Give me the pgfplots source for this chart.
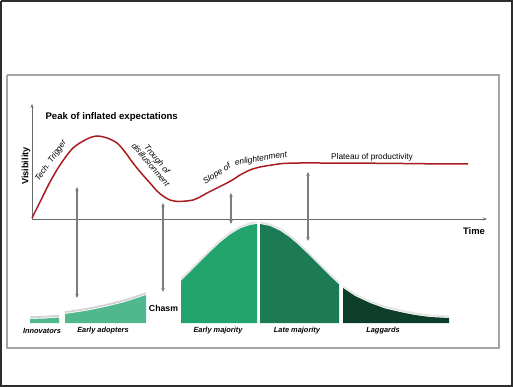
\documentclass[border=0pt]{standalone}
\usepackage{pgfplots}
\pgfplotsset{compat=1.18}
\usepackage{pgfplotstable}
\usepackage{fontspec}
\setmainfont{Liberation Sans}
\usetikzlibrary{arrows.meta}

\definecolor{hype}{RGB}{168,28,32}
\definecolor{gLight}{RGB}{80,184,140}
\definecolor{gMid}{RGB}{35,164,109}
\definecolor{gDark}{RGB}{28,123,85}
\definecolor{gDeep}{RGB}{12,62,42}
\definecolor{arr}{RGB}{125,125,125}
\definecolor{axcol}{RGB}{105,105,105}
\definecolor{halo}{RGB}{210,210,210}
\definecolor{halolight}{RGB}{228,228,228}

% hype curve (pixel coordinates, y downwards)
\pgfplotstableread{
x y
32 218
40 202
50 182
60 165
73 148
87 139
97 136
107 138
117 143
125 152
133 163
142 174
150 183
157 191
163 196
170 200
178 201.5
186 201
193 200
200 197
207 193
217 188
227 183
234 179
240 175
250 170
260 167
272 165
283 163.5
300 163
320 163
383 163.3
430 163.8
468 164
}\hypecurve

% adoption curve segments (baseline at y = 323)
\pgfplotstableread{
x y
30 323
30 319
45 318.5
59 317.5
59 323
}\innov
\pgfplotstableread{
x y
65 323
65 314
85 311
105 307
125 302
146 295
146 323
}\eadopt
\pgfplotstableread{
x y
181 323
181 280.8
190 272.0
200 261.9
210 251.9
220 242.5
230 234.5
240 228.5
250 224.9
257 224.0
257 323
}\emaj
\pgfplotstableread{
x y
260 323
260 224.0
270 226.0
280 230.7
290 237.5
300 246.2
310 255.9
320 266.0
330 276.0
339 284.4
339 323
}\lmaj
\pgfplotstableread{
x y
343 323
343 288
355 296
370 303
385 308.5
400 312
415 315
430 317
449 318
449 323
}\lagg

\begin{document}
\begin{tikzpicture}
\begin{axis}[width=513pt, height=387pt, scale only axis,
  xmin=0, xmax=513, ymin=0, ymax=387, y dir=reverse,
  hide axis, clip=false]

% frames
\addplot[draw={rgb,255:red,45;green,45;blue,45}, line width=2.4pt] coordinates {(1.2,1.2) (511.8,1.2) (511.8,385.8) (1.2,385.8) (1.2,1.2)};
\addplot[draw={rgb,255:red,165;green,165;blue,165}, line width=1.2pt] coordinates {(7,75) (499,75) (499,348) (7,348) (7,75)};

% hype axes
\addplot[axcol, line width=1pt, -{Stealth[length=4pt,width=3pt]}] coordinates {(32,219) (32,104)};
\addplot[axcol, line width=1pt, -{Stealth[length=4pt,width=3pt]}] coordinates {(32,219) (487,219)};

% adoption segments
\addplot[fill=gLight, draw=none] table {\innov};
\addplot[fill=gLight, draw=none] table {\eadopt};
\addplot[fill=gMid, draw=none] table {\emaj};
\addplot[fill=gDark, draw=none] table {\lmaj};
\addplot[fill=gDeep, draw=none] table {\lagg};
% halo on top edges
\addplot[draw=halo, line width=1.8pt, restrict y to domain=0:322, yshift=1.8pt] table {\innov};
\addplot[draw=halo, line width=1.8pt, restrict y to domain=0:322, yshift=1.8pt] table {\eadopt};
\addplot[draw=halolight, line width=1.8pt, restrict y to domain=0:322, yshift=1.6pt] table {\emaj};
\addplot[draw=halolight, line width=1.8pt, restrict y to domain=0:322, yshift=1.6pt] table {\lmaj};
\addplot[draw=halolight, line width=1.8pt, restrict y to domain=0:322, yshift=1.6pt] table {\lagg};

% arrows
\addplot[arr, line width=1.1pt, {Stealth[length=4pt,width=3.5pt]}-{Stealth[length=4pt,width=3.5pt]}] coordinates {(77,187) (77,298)};
\addplot[arr, line width=1.1pt, {Stealth[length=4pt,width=3.5pt]}-{Stealth[length=4pt,width=3.5pt]}] coordinates {(163,203) (163,292)};
\addplot[arr, line width=1.1pt, {Stealth[length=4pt,width=3.5pt]}-{Stealth[length=4pt,width=3.5pt]}] coordinates {(231,193) (231,224)};
\addplot[arr, line width=1.1pt, {Stealth[length=4pt,width=3.5pt]}-{Stealth[length=4pt,width=3.5pt]}] coordinates {(308,172) (308,241)};

% hype curve
\addplot[hype, line width=1.5pt, smooth, tension=0.5] table {\hypecurve};

% labels
\node[anchor=west, font=\fontsize{9.6}{11}\selectfont\bfseries] at (axis cs:42,117) {Peak of inflated expectations};
\node[rotate=90, font=\fontsize{9.2}{11}\selectfont\bfseries] at (axis cs:26,166) {Visibility};
\node[font=\fontsize{9.4}{11}\selectfont\bfseries] at (axis cs:474,231) {Time};
\node[font=\fontsize{8.3}{10}\selectfont] at (axis cs:372,157) {Plateau of productivity};
\node[rotate=55, font=\fontsize{8.2}{10}\selectfont\itshape] at (axis cs:51,161) {Tech. Trigger};
\node[rotate=-50, align=center, font=\fontsize{8.2}{8.6}\selectfont\itshape] at (axis cs:154,162) {Trough of\\disillusionment};
\node[rotate=32, font=\fontsize{8.4}{10}\selectfont\itshape] at (axis cs:217,174) {Slope of};
\node[rotate=9, font=\fontsize{8.4}{10}\selectfont\itshape] at (axis cs:261,159) {enlightenment};
\node[font=\fontsize{8.7}{10}\selectfont\bfseries] at (axis cs:163.5,308) {Chasm};

\node[font=\fontsize{7.4}{9}\selectfont\bfseries\itshape] at (axis cs:42,331) {Innovators};
\node[font=\fontsize{7.4}{9}\selectfont\bfseries\itshape] at (axis cs:103,331) {Early adopters};
\node[font=\fontsize{7.4}{9}\selectfont\bfseries\itshape] at (axis cs:218,331) {Early majority};
\node[font=\fontsize{7.4}{9}\selectfont\bfseries\itshape] at (axis cs:297,331) {Late majority};
\node[font=\fontsize{7.4}{9}\selectfont\bfseries\itshape] at (axis cs:383,331) {Laggards};

\end{axis}
\end{tikzpicture}
\end{document}
